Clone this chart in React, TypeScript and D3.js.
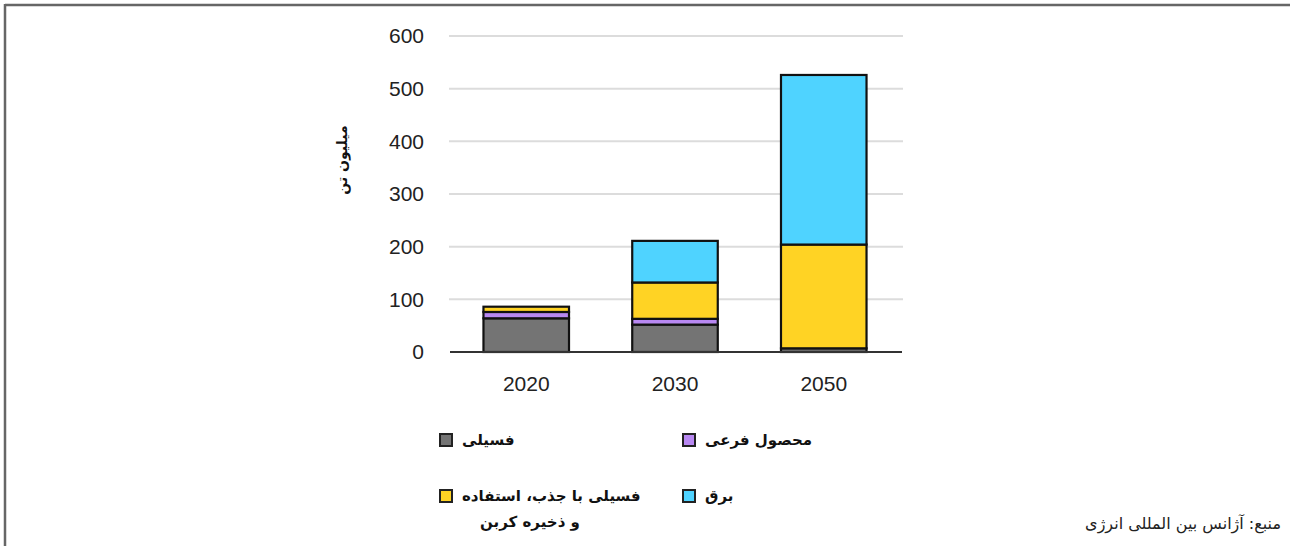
import React from "react";
import * as d3 from "d3";

const years = ["2020", "2030", "2050"];
const fossil = [64, 52, 7];
const byproduct = [12, 11, 0];
const fossilCcs = [10, 69, 197];
const electricity = [0, 79, 322];
const yTicks = [0, 100, 200, 300, 400, 500, 600];
const seriesKeys = ["fossil", "byproduct", "fossilCcs", "electricity"];
const seriesColors = ["#747474", "#b888f2", "#ffd324", "#4fd3ff"];
const legendLabels = ["فسیلی", "محصول فرعی", "فسیلی با جذب، استفاده", "برق"];
const legendLine2 = "و ذخیره کربن";
const yLabel = "میلیون تن";
const sourceText = "منبع: آژانس بین المللی انرژی";

export default function App() {
  const W = 1290, H = 546;
  const x = d3.scaleBand<string>().domain(years).range([450, 900]).paddingInner(0.425).paddingOuter(0.225);
  const y = d3.scaleLinear().domain([0, 600]).range([352, 36]);
  const rows = years.map((yr, i) => ({
    year: yr,
    fossil: fossil[i],
    byproduct: byproduct[i],
    fossilCcs: fossilCcs[i],
    electricity: electricity[i],
  }));
  const stack = d3.stack<any>().keys(seriesKeys)(rows);
  const arabicFont = "'DejaVu Sans', 'Noto Sans', sans-serif";
  const numFont = "'Liberation Sans', Arial, sans-serif";

  const legendItems = [
    { x: 440, y: 440, i: 0 },
    { x: 683, y: 440, i: 1 },
    { x: 440, y: 496, i: 2 },
    { x: 683, y: 496, i: 3 },
  ];

  return (
    <svg width={W} height={H} style={{ position: "absolute", left: 0, top: 0, background: "#fff" }}>
      <rect x={0} y={0} width={W} height={H} fill="#fff" />
      <line x1={5} y1={5} x2={W} y2={5} stroke="#666" strokeWidth={2.5} />
      <line x1={5} y1={4} x2={5} y2={H} stroke="#666" strokeWidth={2.5} />
      {yTicks.map((t) => (
        <g key={t}>
          {t > 0 && (
            <line x1={449} x2={903} y1={y(t)} y2={y(t)} stroke="#dcdcdc" strokeWidth={2} />
          )}
          <text x={424} y={y(t)} dy="0.35em" textAnchor="end" fontFamily={numFont} fontSize={21} fill="#222">
            {t}
          </text>
        </g>
      ))}
      {stack.map((s, si) =>
        s.map((d: any, di: number) => {
          const h = y(d[0]) - y(d[1]);
          if (h <= 0) return null;
          return (
            <rect
              key={si + "-" + di}
              x={x(years[di])!}
              y={y(d[1])}
              width={x.bandwidth()}
              height={h}
              fill={seriesColors[si]}
              stroke="#111"
              strokeWidth={2.2}
            />
          );
        })
      )}
      <line x1={450} x2={902} y1={y(0)} y2={y(0)} stroke="#333" strokeWidth={2} />
      {years.map((yr) => (
        <text key={yr} x={x(yr)! + x.bandwidth() / 2} y={384} dy="0.35em" textAnchor="middle" fontFamily={numFont} fontSize={21} fill="#222">
          {yr}
        </text>
      ))}
      <text
        transform="translate(342,160) rotate(-90)"
        textAnchor="middle"
        dy="0.35em"
        fontFamily={arabicFont}
        fontSize={14}
        fontWeight="bold"
        fill="#111"
      >
        {yLabel}
      </text>
      {legendItems.map((it) => (
        <g key={it.i}>
          <rect x={it.x} y={it.y - 6} width={12} height={12} fill={seriesColors[it.i]} stroke="#222" strokeWidth={2} />
          <text x={it.x + 22} y={it.y} dy="0.35em" fontFamily={arabicFont} fontSize={15} fontWeight="bold" fill="#111" textAnchor="start">
            {legendLabels[it.i]}
          </text>
        </g>
      ))}
      <text x={530} y={522} dy="0.35em" textAnchor="middle" fontFamily={arabicFont} fontSize={15} fontWeight="bold" fill="#111">
        {legendLine2}
      </text>
      <text x={1281} y={523} dy="0.35em" textAnchor="end" fontFamily={arabicFont} fontSize={16} fill="#222">
        {sourceText}
      </text>
    </svg>
  );
}
